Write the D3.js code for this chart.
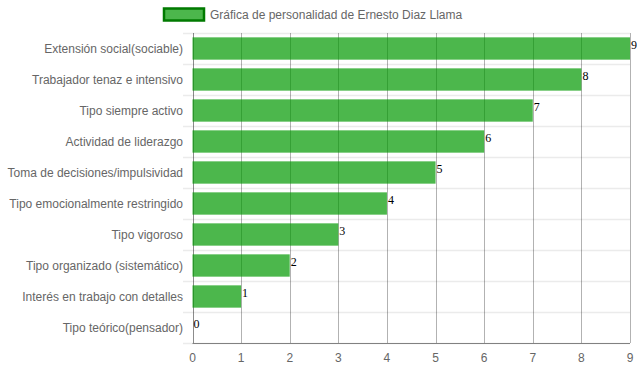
<!DOCTYPE html>
<html><head><meta charset="utf-8">
<script src="https://cdn.jsdelivr.net/npm/d3@7"></script>
<style>body{margin:0;background:#fff}svg{display:block}text{font-family:"Liberation Sans",Arial,Helvetica,sans-serif}</style>
</head><body>
<svg id="c" width="637" height="371"></svg>
<script>
const categories = ["Extensión social(sociable)","Trabajador tenaz e intensivo","Tipo siempre activo","Actividad de liderazgo","Toma de decisiones/impulsividad","Tipo emocionalmente restringido","Tipo vigoroso","Tipo organizado (sistemático)","Interés en trabajo con detalles","Tipo teórico(pensador)"];
const values = [9,8,7,6,5,4,3,2,1,0];
const xTicks = [0,1,2,3,4,5,6,7,8,9];
const seriesName = "Gráfica de personalidad de Ernesto Diaz Llama";

const svg = d3.select("#c");
const pLeft = 192.5, pRight = 630, pTop = 33, pBottom = 343;
const x = d3.scaleLinear().domain([0,9]).range([pLeft,pRight]);
const y = d3.scaleBand().domain(categories).range([pTop,pBottom]);
const bh = y.bandwidth()*0.72;

// horizontal grid
const hLines = d3.range(categories.length+1).map(i => pTop + i*y.step());
svg.append("g").selectAll("line").data(hLines).join("line")
  .attr("x1", 183).attr("x2", pRight).attr("y1", d=>Math.round(d)+0.5).attr("y2", d=>Math.round(d)+0.5)
  .attr("stroke", "rgba(0,0,0,0.08)").attr("stroke-width",1.5);

// vertical grid
svg.append("g").selectAll("line").data(xTicks).join("line")
  .attr("x1", d=>Math.round(x(d))+0.5).attr("x2", d=>Math.round(x(d))+0.5)
  .attr("y1", pTop).attr("y2", pBottom)
  .attr("stroke", d=> d===0 ? "rgba(0,0,0,0.45)" : "rgba(0,0,0,0.3)").attr("stroke-width",1);

// x axis line
svg.append("line").attr("x1", pLeft).attr("x2", pRight).attr("y1", pBottom+0.5).attr("y2", pBottom+0.5)
  .attr("stroke","rgba(0,0,0,0.45)");

// bars
svg.append("g").selectAll("rect").data(values).join("rect")
  .attr("x", x(0)).attr("width", d=>x(d)-x(0))
  .attr("y", (d,i)=> y(categories[i]) + (y.bandwidth()-bh)/2).attr("height", bh)
  .attr("fill", "rgba(0,153,0,0.7)");

// value labels
svg.append("g").selectAll("text").data(values).join("text")
  .attr("x", d=>x(d)+1).attr("y", (d,i)=> y(categories[i]) + y.bandwidth()/2 + 0.8)
  .attr("font-size",12).attr("fill","#000")
  .style("font-family","'Liberation Serif','Times New Roman',serif")
  .text(d=>d);

// y labels
svg.append("g").selectAll("text").data(categories).join("text")
  .attr("x", 183).attr("y", d=> y(d)+y.bandwidth()/2).attr("dy","0.35em")
  .attr("text-anchor","end").attr("font-size",12).attr("fill","#666").text(d=>d);

// x tick labels
svg.append("g").selectAll("text").data(xTicks).join("text")
  .attr("x", d=>x(d)).attr("y", 358).attr("dy","0.35em")
  .attr("text-anchor","middle").attr("font-size",12).attr("fill","#666").text(d=>d);

// legend
const lg = svg.append("g");
lg.append("rect").attr("x",164).attr("y",8.5).attr("width",40).attr("height",12)
  .attr("fill","rgba(0,153,0,0.7)").attr("stroke","#007a00").attr("stroke-width",2.5);
lg.append("text").attr("x",210).attr("y",14.5).attr("dy","0.35em").attr("font-size",12).attr("fill","#666").text(seriesName);
</script>
</body></html>
